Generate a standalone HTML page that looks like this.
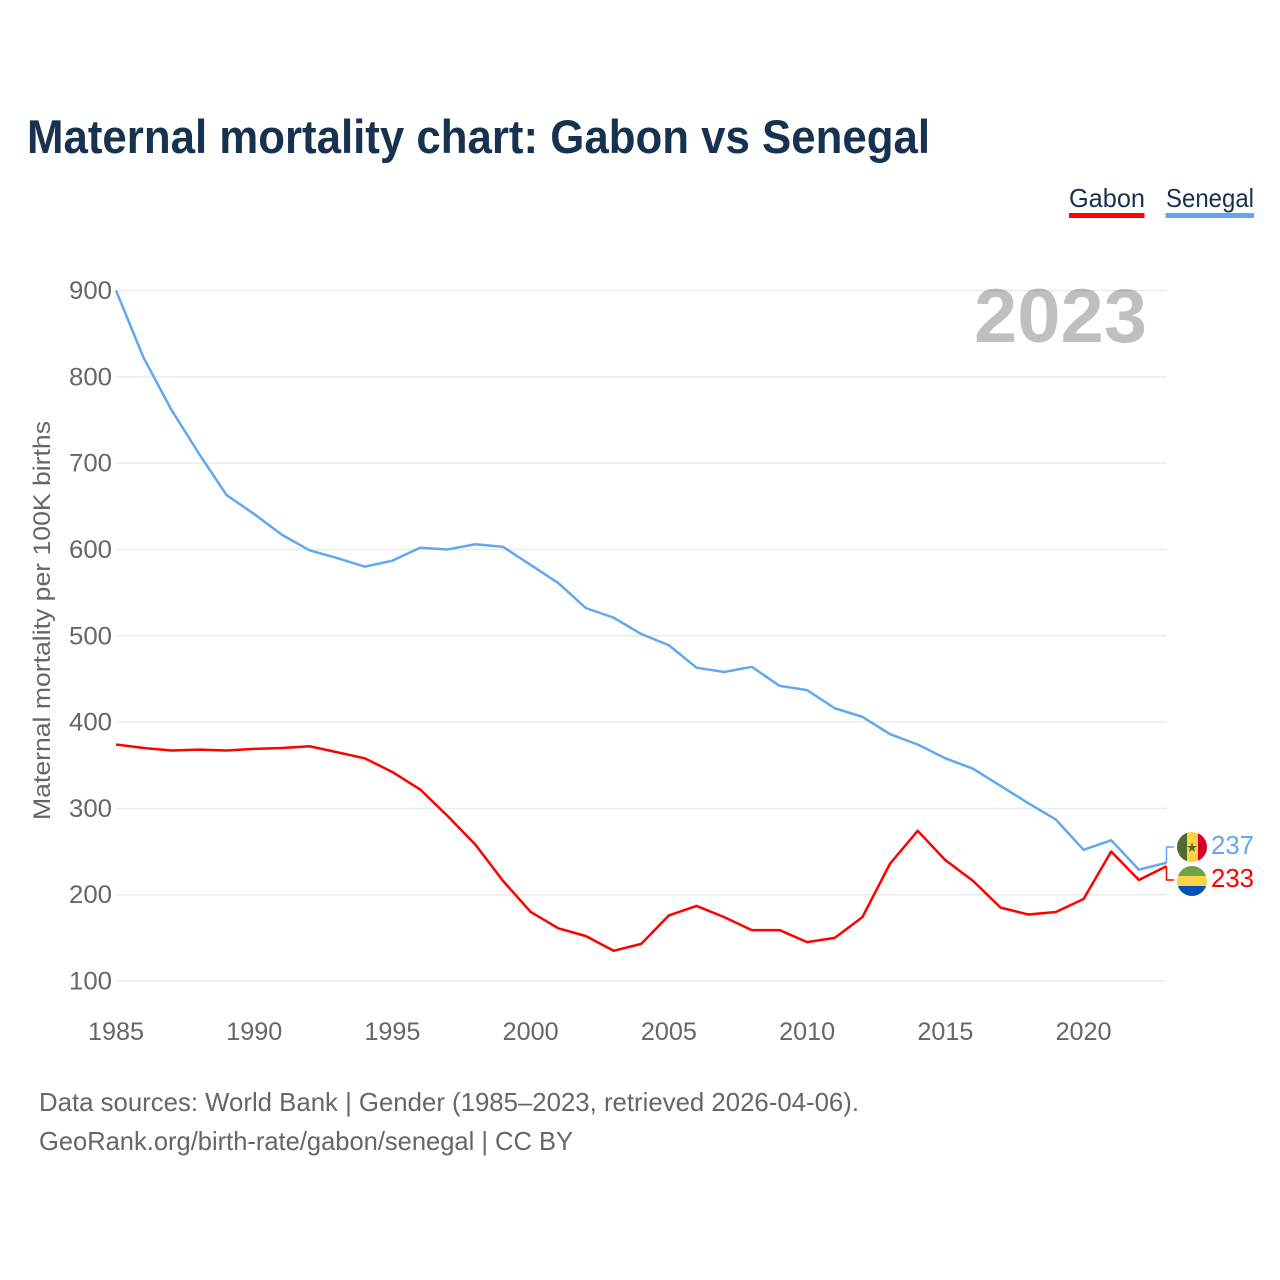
<!DOCTYPE html>
<html lang="en">
<head>
<meta charset="utf-8">
<title>Maternal mortality chart: Gabon vs Senegal</title>
<style>
html,body{margin:0;padding:0;background:#fff;width:1280px;height:1280px;overflow:hidden}
svg{display:block;font-family:"Liberation Sans",sans-serif}
</style>
</head>
<body>
<svg id="chart" xmlns="http://www.w3.org/2000/svg" width="1280" height="1280" viewBox="0 0 1280 1280">
  <rect x="0" y="0" width="1280" height="1280" fill="#fff"/>
  <text x="27" y="153" font-size="47" font-weight="700" fill="#17324f" textLength="903" lengthAdjust="spacingAndGlyphs">Maternal mortality chart: Gabon vs Senegal</text>

  <g>
    <text x="1069" y="207" font-size="26" fill="#17324f" textLength="76" lengthAdjust="spacingAndGlyphs">Gabon</text>
    <rect x="1069" y="213" width="75.500" height="5" fill="#ff0000"/>
  </g>
  <g>
    <text x="1166" y="207" font-size="26" fill="#17324f" textLength="88" lengthAdjust="spacingAndGlyphs">Senegal</text>
    <rect x="1165.500" y="213" width="88.500" height="5" fill="#62a8ee"/>
  </g>

  <g id="grid"></g>
  <text x="974" y="342" font-size="76" font-weight="700" fill="#000" fill-opacity="0.25" textLength="173" lengthAdjust="spacingAndGlyphs">2023</text>
  <g id="ytick-labels"></g>
  <g id="xtick-labels"></g>
  <text transform="translate(50,820) rotate(-90)" x="0" y="0" font-size="24" fill="#666" textLength="399" lengthAdjust="spacingAndGlyphs">Maternal mortality per 100K births</text>
  <g id="series"></g>

  <g>
    <path id="conn-senegal" fill="none" stroke="#62a8ee" stroke-width="1.500"/>
    <g>
      <clipPath id="clip-sn"><circle cx="1192" cy="847" r="15"/></clipPath>
      <g clip-path="url(#clip-sn)">
        <rect x="1177" y="832" width="10" height="30" fill="#4d6b33"/>
        <rect x="1187" y="832" width="11" height="30" fill="#ffd345"/>
        <rect x="1198" y="832" width="9" height="30" fill="#d80027"/>
      </g>
      <polygon points="1192,842.500 1193.300,846 1197,846 1194,848.300 1195.100,852 1192,849.800 1188.900,852 1190,848.300 1187,846 1190.700,846" fill="#4d6b33"/>
    </g>
    <text id="val-senegal" x="1211" y="854" font-size="26" fill="#62a8ee" textLength="43" lengthAdjust="spacingAndGlyphs"></text>
  </g>
  <g>
    <path id="conn-gabon" fill="none" stroke="#ff0000" stroke-width="1.500"/>
    <g>
      <clipPath id="clip-ga"><circle cx="1192" cy="881" r="15"/></clipPath>
      <g clip-path="url(#clip-ga)">
        <rect x="1177" y="866" width="30" height="10" fill="#6da544"/>
        <rect x="1177" y="876" width="30" height="10" fill="#ffd345"/>
        <rect x="1177" y="886" width="30" height="10" fill="#0052b4"/>
      </g>
    </g>
    <text id="val-gabon" x="1211" y="887" font-size="26" fill="#ff0000" textLength="43" lengthAdjust="spacingAndGlyphs"></text>
  </g>

  <text x="39" y="1111" font-size="26" fill="#666" textLength="820" lengthAdjust="spacingAndGlyphs">Data sources: World Bank | Gender (1985–2023, retrieved 2026-04-06).</text>
  <text x="39" y="1150" font-size="26" fill="#666" textLength="534" lengthAdjust="spacingAndGlyphs">GeoRank.org/birth-rate/gabon/senegal | CC BY</text>
</svg>
<script>
const years = [1985,1986,1987,1988,1989,1990,1991,1992,1993,1994,1995,1996,1997,1998,1999,2000,2001,2002,2003,2004,2005,2006,2007,2008,2009,2010,2011,2012,2013,2014,2015,2016,2017,2018,2019,2020,2021,2022,2023];
const senegal = [900,822,762,711,663,641,617,599,590,580,587,602,600,606,603,582,561,532,521,502,489,463,458,464,442,437,416,406,386,374,358,346,326,306,287,252,263,229,237];
const gabon = [374,370,367,368,367,369,370,372,365,358,342,322,291,258,216,180,161,152,135,143,176,187,174,159,159,145,150,174,236,274,240,216,185,177,180,195,250,217,233];
const yTicks = [100,200,300,400,500,600,700,800,900];
const xTicks = [1985,1990,1995,2000,2005,2010,2015,2020];

const NS = 'http://www.w3.org/2000/svg';
const PLOT = {left:116, right:1166.5, top:290.5, bottom:981};
function xScale(year){
  return PLOT.left + (year - 1985) / (2023 - 1985) * (PLOT.right - PLOT.left);
}
function yScale(value){
  return PLOT.bottom - (value - 100) / (900 - 100) * (PLOT.bottom - PLOT.top);
}
function make(tag, attrs, parent, text){
  const el = document.createElementNS(NS, tag);
  for (const k in attrs) el.setAttribute(k, attrs[k]);
  if (text !== undefined) el.textContent = text;
  parent.appendChild(el);
  return el;
}

const grid = document.getElementById('grid');
const yLabels = document.getElementById('ytick-labels');
const xLabels = document.getElementById('xtick-labels');
const seriesGroup = document.getElementById('series');

yTicks.forEach(function(t){
  const line = make('line', {x1:PLOT.left, x2:PLOT.right, y1:yScale(t), y2:yScale(t), stroke:'#ebebeb', 'stroke-width':1.5}, grid);
  
  
  const label = make('text', {x:112, y:yScale(t) + 8.5, 'text-anchor':'end', 'font-size':25, fill:'#666', textLength:43, lengthAdjust:'spacingAndGlyphs'}, yLabels, String(t));
  
  
});

xTicks.forEach(function(t){
  const label = make('text', {x:xScale(t), y:1040, 'text-anchor':'middle', 'font-size':25, fill:'#666', textLength:56, lengthAdjust:'spacingAndGlyphs'}, xLabels, String(t));
  
  
});

function linePath(values){
  return values.map(function(v, i){
    return (i ? 'L' : 'M') + xScale(years[i]).toFixed(2) + ' ' + yScale(v).toFixed(2);
  }).join(' ');
}

const senegalLine = make('path', {d:linePath(senegal), fill:'none', stroke:'#62a8ee', 'stroke-width':2.5, 'stroke-linejoin':'round'}, seriesGroup);



const gabonLine = make('path', {d:linePath(gabon), fill:'none', stroke:'#ff0000', 'stroke-width':2.5, 'stroke-linejoin':'round'}, seriesGroup);



const lastSenegal = senegal[senegal.length - 1];
const lastGabon = gabon[gabon.length - 1];
document.getElementById('val-senegal').textContent = String(lastSenegal);
document.getElementById('val-gabon').textContent = String(lastGabon);
document.getElementById('conn-senegal').setAttribute('d', 'M' + PLOT.right + ' ' + yScale(lastSenegal) + ' V847 H1174');
document.getElementById('conn-gabon').setAttribute('d', 'M' + PLOT.right + ' ' + yScale(lastGabon) + ' V880 H1174');
</script>
</body>
</html>
